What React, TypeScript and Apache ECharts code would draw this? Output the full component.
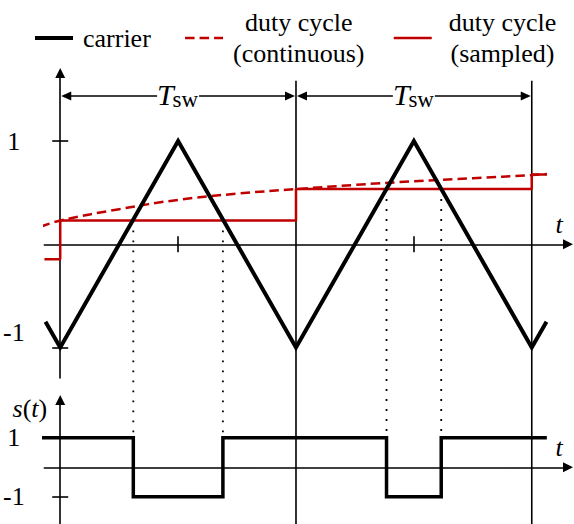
import React, { useEffect, useRef } from 'react';
import * as echarts from 'echarts';

const FONT = 'Liberation Serif';
const RED = '#c00000';
const INK = '#000000';

// time is measured in switching periods (t / Tsw)
const carrierT = [-0.0625, 0, 0.5, 1, 1.5, 2, 2.0625];
const carrierV = [-0.75, -1, 1, -1, 1, -1, -0.75];

const dutyT = [-0.083, 0, 0.25, 0.5, 0.75, 1, 1.25, 1.5, 1.75, 2, 2.064];
const dutyV = [0.17, 0.23, 0.34, 0.43, 0.49, 0.534, 0.575, 0.61, 0.64, 0.67, 0.68];

// duty cycle held from each sampling instant
const sampleT = [-0.067, 0, 1, 2, 2.064];
const sampleV = [-0.146, 0.23, 0.534, 0.675, 0.675];

// switching function s(t), held until the next edge
const switchT = [-0.078, 0.31, 0.69, 1.384, 1.616, 2.064];
const switchV = [1, -1, 1, -1, 1, 1];

const periodEdges = [1, 2];
const periodSpans = [[0, 1], [1, 2]];
const carrierTicks = [0.5, 1.5];
const levelTicks = [-1, 1];

const legendNames = ['carrier', 'duty cycle (continuous)', 'duty cycle (sampled)'];

// layout of the two panels
const X_MIN = -0.0674;
const X_MAX = 2.1537;
const TOP = { left: 40.5, right: 6, top: 73, height: 305 };
const TOP_MIN = -1.2954;
const TOP_MAX = 1.6586;
const BOT = { left: 40.5, right: 6, top: 400, height: 124 };
const BOT_MIN = -1.922;
const BOT_MAX = 2.2814;

// annotation levels in upper-panel units
const DIM_LEVEL = 1.436;
const GUIDE_TOP = 1.584;

// express a level of the lower panel in upper-panel units
const toTopUnits = (v: number) => {
  const px = BOT.top + ((BOT_MAX - v) / (BOT_MAX - BOT_MIN)) * BOT.height;
  return TOP_MAX - ((px - TOP.top) / TOP.height) * (TOP_MAX - TOP_MIN);
};

const zip = (xs: number[], ys: number[]) => xs.map((x, i) => [x, ys[i]]);

const heldSample = (t: number) => {
  let v = sampleV[0];
  sampleT.forEach((s, i) => {
    if (s <= t) v = sampleV[i];
  });
  return v;
};

const axisStroke = { color: INK, width: 1.6 };

const arrowLine = (onZeroAxisIndex: number) => ({
  onZero: true,
  onZeroAxisIndex,
  lineStyle: axisStroke,
  symbol: ['none', 'triangle'],
  symbolSize: [10, 10],
});

const hiddenLine = (onZeroAxisIndex: number) => ({
  show: false,
  onZero: true,
  onZeroAxisIndex,
});

const tickSet = (values: number[]) => ({
  show: true,
  customValues: values,
  length: 8,
  lineStyle: axisStroke,
});

const tName = {
  name: 't',
  nameLocation: 'end',
  nameGap: -9,
  nameTextStyle: {
    fontFamily: FONT,
    fontStyle: 'italic',
    fontSize: 26,
    color: INK,
    align: 'center',
    verticalAlign: 'bottom',
    lineHeight: 26,
    padding: [0, 0, 7, 0],
  },
};

const levelLabel = (raiseNegative: boolean) => ({
  show: true,
  customValues: levelTicks,
  align: 'center',
  margin: 30.5,
  fontFamily: FONT,
  fontSize: 26,
  color: INK,
  formatter: (v: number) => (v < 0 && raiseNegative ? `{lo|${v}}` : `{n|${v}}`),
  rich: {
    n: { fontFamily: FONT, fontSize: 26, color: INK },
    lo: { fontFamily: FONT, fontSize: 26, color: INK, padding: [0, 0, 31, 0] },
  },
});

const renderSpan = (_params: any, api: any) => {
  const a = api.coord([api.value(0), api.value(2)]);
  const b = api.coord([api.value(1), api.value(2)]);
  const y = a[1];
  const xc = (a[0] + b[0]) / 2;
  const head = 10;
  const half = 4.5;
  const gap = 21;
  const stroke = { stroke: INK, lineWidth: 1.5 };
  return {
    type: 'group',
    children: [
      { type: 'line', shape: { x1: a[0] + head, y1: y, x2: xc - gap, y2: y }, style: stroke },
      { type: 'line', shape: { x1: xc + gap, y1: y, x2: b[0] - head, y2: y }, style: stroke },
      {
        type: 'polygon',
        shape: { points: [[a[0] + 1, y], [a[0] + 1 + head, y - half], [a[0] + 1 + head, y + half]] },
        style: { fill: INK },
      },
      {
        type: 'polygon',
        shape: { points: [[b[0] - 1, y], [b[0] - 1 - head, y - half], [b[0] - 1 - head, y + half]] },
        style: { fill: INK },
      },
      {
        type: 'text',
        x: xc - 21,
        y: y - 1,
        style: {
          text: 'T',
          fontFamily: FONT,
          fontStyle: 'italic',
          fontSize: 30,
          fill: INK,
          align: 'left',
          verticalAlign: 'middle',
        },
      },
      {
        type: 'text',
        x: xc - 5.5,
        y: y + 3.7,
        style: {
          text: 'sw',
          fontFamily: FONT,
          fontSize: 23,
          fill: INK,
          align: 'left',
          verticalAlign: 'middle',
        },
      },
    ],
  };
};

export default function App() {
  const ref = useRef<HTMLDivElement>(null);

  useEffect(() => {
    if (!ref.current) return;
    const chart = echarts.init(ref.current, null, { renderer: 'svg' });

    const s1Level = toTopUnits(1);
    const pageBottom = toTopUnits(BOT_MIN) - 0.2;

    const guideSeries = periodEdges.map((t) => ({
      type: 'line',
      xAxisIndex: 0,
      yAxisIndex: 0,
      data: [[t, GUIDE_TOP], [t, pageBottom]],
      symbol: 'none',
      clip: false,
      silent: true,
      lineStyle: { color: INK, width: 1.6 },
      z: 2,
    }));

    const dottedSeries = switchT.slice(1, -1).map((t) => ({
      type: 'line',
      xAxisIndex: 0,
      yAxisIndex: 0,
      data: [[t, heldSample(t)], [t, s1Level]],
      symbol: 'none',
      clip: false,
      silent: true,
      lineStyle: { color: INK, width: 1.8, type: [1.8, 8.2] },
      z: 1,
    }));

    const legendText = { fontFamily: FONT, fontSize: 26, color: INK, lineHeight: 31 };

    chart.setOption({
      animation: false,
      textStyle: { fontFamily: FONT },
      legend: {
        left: 33,
        top: 7,
        padding: 0,
        itemGap: 28,
        itemWidth: 38,
        itemHeight: 14,
        selectedMode: false,
        data: legendNames,
        formatter: (name: string) => {
          const open = name.indexOf('(');
          if (open < 0) return `{a|${name}}`;
          const key = name === legendNames[2] ? 's' : 'c';
          return `{${key}|${name.slice(0, open).trim()}}\n{${key}|${name.slice(open)}}`;
        },
        itemStyle: { opacity: 0 },
        lineStyle: { width: 'inherit' },
        textStyle: {
          ...legendText,
          rich: {
            a: { ...legendText, padding: [0, 5, 0, 5] },
            c: { ...legendText, align: 'center', padding: [0, 0, 0, 5] },
            s: { ...legendText, align: 'center', padding: [0, 0, 0, 12] },
          },
        },
      },
      grid: [
        { ...TOP, containLabel: false },
        { ...BOT, containLabel: false },
      ],
      xAxis: [
        {
          gridIndex: 0,
          type: 'value',
          min: X_MIN,
          max: X_MAX,
          position: 'bottom',
          axisLine: arrowLine(0),
          axisTick: tickSet(carrierTicks),
          axisLabel: { show: false },
          splitLine: { show: false },
          ...tName,
        },
        {
          gridIndex: 0,
          type: 'value',
          min: X_MIN,
          max: X_MAX,
          position: 'top',
          axisLine: hiddenLine(0),
          axisTick: tickSet(carrierTicks),
          axisLabel: { show: false },
          splitLine: { show: false },
        },
        {
          gridIndex: 1,
          type: 'value',
          min: X_MIN,
          max: X_MAX,
          position: 'bottom',
          axisLine: arrowLine(2),
          axisTick: { show: false },
          axisLabel: { show: false },
          splitLine: { show: false },
          ...tName,
        },
      ],
      yAxis: [
        {
          gridIndex: 0,
          type: 'value',
          min: TOP_MIN,
          max: TOP_MAX,
          position: 'left',
          axisLine: arrowLine(0),
          axisTick: tickSet(levelTicks),
          axisLabel: levelLabel(true),
          splitLine: { show: false },
        },
        {
          gridIndex: 0,
          type: 'value',
          min: TOP_MIN,
          max: TOP_MAX,
          position: 'right',
          axisLine: hiddenLine(0),
          axisTick: tickSet(levelTicks),
          axisLabel: { show: false },
          splitLine: { show: false },
        },
        {
          gridIndex: 1,
          type: 'value',
          min: BOT_MIN,
          max: BOT_MAX,
          position: 'left',
          axisLine: arrowLine(2),
          axisTick: tickSet(levelTicks),
          axisLabel: levelLabel(false),
          splitLine: { show: false },
          name: '{i|s}{n|(}{i|t}{n|)}',
          nameLocation: 'end',
          nameGap: -8,
          nameTextStyle: {
            align: 'right',
            verticalAlign: 'middle',
            padding: [0, 13, 0, 0],
            rich: {
              i: { fontFamily: FONT, fontStyle: 'italic', fontSize: 26, color: INK },
              n: { fontFamily: FONT, fontSize: 26, color: INK },
            },
          },
        },
        {
          gridIndex: 1,
          type: 'value',
          min: BOT_MIN,
          max: BOT_MAX,
          position: 'right',
          axisLine: hiddenLine(2),
          axisTick: tickSet(levelTicks),
          axisLabel: { show: false },
          splitLine: { show: false },
        },
      ],
      series: [
        ...guideSeries,
        ...dottedSeries,
        {
          name: legendNames[1],
          type: 'line',
          xAxisIndex: 0,
          yAxisIndex: 0,
          data: zip(dutyT, dutyV),
          smooth: 0.4,
          symbol: 'none',
          clip: false,
          silent: true,
          lineStyle: { color: RED, width: 2.5, type: [9.5, 5] },
          itemStyle: { color: RED },
          z: 3,
        },
        {
          name: legendNames[2],
          type: 'line',
          xAxisIndex: 0,
          yAxisIndex: 0,
          data: zip(sampleT, sampleV),
          step: 'end',
          symbol: 'none',
          clip: false,
          silent: true,
          lineStyle: { color: RED, width: 2.5 },
          itemStyle: { color: RED },
          z: 3,
        },
        {
          name: legendNames[0],
          type: 'line',
          xAxisIndex: 0,
          yAxisIndex: 0,
          data: zip(carrierT, carrierV),
          symbol: 'none',
          clip: false,
          silent: true,
          lineStyle: { color: INK, width: 4, join: 'miter' },
          itemStyle: { color: INK },
          z: 5,
        },
        {
          name: 's(t)',
          type: 'line',
          xAxisIndex: 2,
          yAxisIndex: 2,
          data: zip(switchT, switchV),
          step: 'end',
          symbol: 'none',
          clip: false,
          silent: true,
          lineStyle: { color: INK, width: 3.5, join: 'miter' },
          itemStyle: { color: INK },
          z: 5,
        },
        {
          type: 'custom',
          xAxisIndex: 0,
          yAxisIndex: 0,
          data: periodSpans.map(([a, b]) => [a, b, DIM_LEVEL]),
          encode: { x: [0, 1], y: 2 },
          renderItem: renderSpan,
          clip: false,
          silent: true,
          z: 4,
        },
      ],
    });

    return () => chart.dispose();
  }, []);

  return (
    <div
      ref={ref}
      style={{ position: 'absolute', left: 0, top: 0, width: 574, height: 524, background: '#fff' }}
    />
  );
}
